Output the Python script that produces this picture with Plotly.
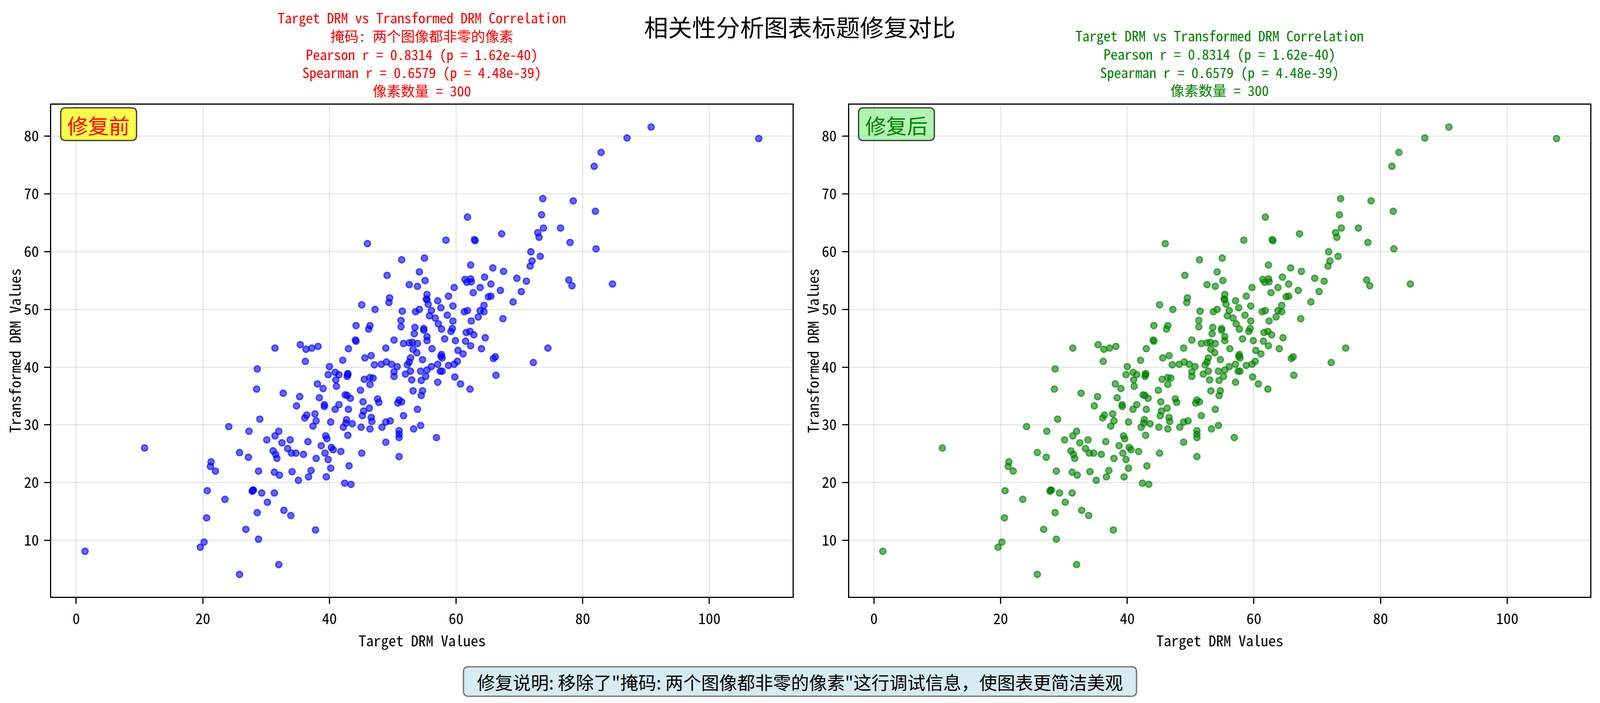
import plotly.graph_objects as go

# ---------------- data ----------------
target_drm = [
    31.4, 35.4, 36.3, 37.2, 38.2, 43.0,
    36.2, 42.1, 45.6, 46.6, 47.1, 48.2,
    40.0, 39.8, 40.9, 41.5,
    42.9, 42.9, 42.8,
    41.0, 41.1, 45.5,
    46.4, 46.9,
    46.4, 38.1, 39.0, 44.9, 28.6, 28.5, 32.7, 35.3, 34.8, 38.4,
    39.2, 39.2,
    40.9, 41.5,
    42.5, 42.8, 43.3,
    43.0, 45.3, 46.3,
    45.4, 45.2,
    47.6, 47.8,
    46.6, 46.7,
    29.0, 24.1, 27.3,
    36.4, 36.1,
    37.7, 37.9, 37.4, 40.2,
    42.7, 42.6, 42.2,
    43.6, 45.0, 46.4, 48.3,
    42.9,
    32.0, 31.4, 30.1, 32.5, 33.8, 36.6,
    39.4, 39.6,
    38.7,
    31.1, 31.5, 31.7,
    33.4,
    34.0, 34.7,
    35.9,
    40.3, 40.6,
    41.8, 39.3, 37.9, 39.8, 45.1, 25.8, 27.2,
    21.3, 21.2,
    22.0, 28.8,
    31.3, 32.1,
    34.1,
    37.1, 36.7,
    35.1, 40.2, 39.5, 43.1,
    42.4, 43.4,
    20.7, 23.5,
    27.9, 28.0, 27.8,
    29.3, 31.3, 30.2, 28.6, 32.8, 33.9, 20.6, 26.8, 37.8, 28.8,
    20.2, 19.6,
    32.0, 25.8,
    46.0, 45.1, 47.2, 44.2, 46.4, 46.2, 44.1, 44.2,
    48.9, 56.2, 62.3, 64.0, 74.5,
    53.2, 53.8,
    52.8, 52.6, 52.3,
    49.0,
    49.8, 50.7,
    50.2, 50.2,
    52.0, 52.8, 53.0, 54.7, 54.4, 55.4, 55.2, 54.5, 56.1, 57.1,
    57.7, 57.8, 57.6,
    57.5, 57.8,
    58.8,
    59.7, 60.2,
    60.3, 61.1, 59.8, 57.1, 60.7, 62.2,
    65.9, 66.2,
    66.3, 72.2, 53.2,
    54.7, 54.5,
    51.0, 50.8, 51.4,
    53.9, 51.7,
    48.9, 49.6,
    53.3, 54.4,
    51.0, 51.0, 51.0,
    56.9, 48.9, 51.0,
    73.7, 78.5, 73.5, 61.8, 73.8, 76.5,
    72.9, 73.1,
    67.2, 58.4,
    62.9, 63.0,
    78.0, 71.8, 73.3,
    72.0, 71.7,
    51.4, 55.0, 62.3, 65.8, 67.5, 49.1, 54.2, 55.1, 52.6, 53.9,
    49.5, 49.4,
    55.4, 55.3, 55.4,
    55.6, 56.1, 55.8, 56.7, 57.2, 57.7, 57.1, 57.6, 58.8, 59.7, 59.5, 58.6, 59.5,
    59.4, 59.2,
    58.2, 59.9, 51.5,
    53.6, 54.2,
    51.3, 51.3,
    53.5, 53.4,
    54.9, 54.9,
    55.4, 55.4,
    50.2,
    51.7, 52.6, 53.1, 53.9,
    61.4, 61.7, 62.3, 62.4,
    62.7, 63.8, 64.5, 65.5,
    65.1, 65.5,
    67.0, 64.4,
    61.3, 61.8,
    63.8, 64.4,
    63.5, 62.4, 67.4, 69.0, 69.6, 71.1, 70.3,
    77.8, 78.3,
    61.6, 62.2, 62.8,
    61.5, 64.6,
    81.8, 82.9, 87.0, 90.8, 107.8, 82.0, 82.1, 84.7,
    1.4, 10.8,
]

transformed_drm = [
    43.3, 43.9, 43.1, 43.3, 43.6, 43.2,
    41.0, 41.2, 41.6, 42.0, 40.4, 40.5,
    40.1, 38.7, 39.1, 38.7,
    38.9, 38.7, 38.4,
    37.8, 36.7, 37.9,
    38.2, 38.1,
    37.0, 37.1, 36.3, 36.0, 39.7, 36.2, 35.5, 34.9, 33.3, 34.7,
    33.5, 33.2,
    32.7, 33.5,
    35.2, 35.1, 34.6,
    32.7, 34.0, 32.9,
    32.4, 31.6,
    34.5, 33.9,
    31.3, 30.6,
    31.0, 29.7, 28.9,
    31.7, 31.2,
    31.9, 30.7, 29.8, 30.5,
    30.9, 30.3, 29.6,
    30.2, 29.6, 29.3, 29.6,
    28.2,
    28.9, 28.1, 27.4, 26.9, 27.4, 27.1,
    28.1, 27.6,
    26.4,
    25.5, 24.9, 24.2,
    25.9,
    25.1, 25.1,
    24.9,
    26.1, 25.7,
    25.4, 25.1, 24.2, 24.0, 25.1, 25.2, 24.4,
    23.6, 22.8,
    22.0, 22.0,
    21.8, 21.3,
    21.9,
    22.1, 21.0,
    20.4, 22.5, 21.0, 22.9,
    19.9, 19.7,
    18.6, 17.1,
    18.7, 18.7, 18.5,
    18.2, 18.2, 16.6, 14.8, 15.2, 14.3, 13.9, 11.9, 11.8, 10.2,
    9.7, 8.8,
    5.8, 4.1,
    61.4, 50.8, 50.0, 47.2, 47.2, 46.6, 44.7, 44.5,
    43.3, 43.2, 43.7, 43.2, 43.3,
    43.1, 42.5,
    41.6, 40.9, 40.4,
    40.9,
    40.5, 40.1,
    39.2, 38.4,
    38.8, 39.3, 37.8, 41.3, 39.3, 39.5, 38.4, 37.7, 40.1, 40.5,
    42.2, 41.6, 41.9,
    39.3, 39.3,
    40.3,
    40.5, 41.0,
    42.9, 42.3, 38.3, 37.4, 37.1, 36.2,
    41.5, 41.8,
    38.6, 40.8, 35.9,
    35.9, 35.1,
    34.3, 33.8, 34.0,
    32.7, 31.6,
    30.5, 30.7,
    29.3, 29.9,
    29.0, 28.4, 27.8,
    27.8, 27.0, 24.5,
    69.2, 68.8, 66.4, 66.0, 64.1, 64.1,
    63.3, 62.5,
    63.1, 62.0,
    62.1, 61.9,
    61.6, 60.0, 59.2,
    58.4, 57.5,
    58.6, 58.9, 57.7, 57.2, 56.6, 55.9, 56.5, 55.0, 54.3, 54.0,
    52.0, 51.2,
    52.6, 51.8, 51.7,
    50.9, 49.8, 48.9, 48.5, 47.5, 46.6, 51.5, 50.3, 52.3, 53.8, 50.6, 49.0, 48.0,
    46.7, 46.2,
    44.9, 44.6, 49.7,
    49.6, 50.0,
    48.1, 47.0,
    46.9, 45.8,
    46.7, 46.4,
    45.3, 44.6,
    44.7,
    44.1, 44.2, 44.3, 44.1,
    55.2, 54.7, 55.3, 54.8,
    52.9, 53.8, 55.6, 54.4,
    52.2, 52.3,
    53.3, 50.7,
    49.6, 49.8,
    49.8, 49.6,
    48.7, 48.0, 48.4, 51.3, 55.4, 54.9, 53.1,
    55.1, 54.1,
    46.0, 46.2, 45.6,
    44.5, 45.1,
    74.8, 77.2, 79.7, 81.6, 79.6, 67.0, 60.5, 54.4,
    8.1, 26.0,
]

x_ticks = [0, 20, 40, 60, 80, 100]
y_ticks = [10, 20, 30, 40, 50, 60, 70, 80]

suptitle = "相关性分析图表标题修复对比"
left_title_lines = [
    "Target DRM vs Transformed DRM Correlation",
    "掩码: 两个图像都非零的像素",
    "Pearson r = 0.8314 (p = 1.62e-40)",
    "Spearman r = 0.6579 (p = 4.48e-39)",
    "像素数量 = 300",
]
right_title_lines = [
    "Target DRM vs Transformed DRM Correlation",
    "Pearson r = 0.8314 (p = 1.62e-40)",
    "Spearman r = 0.6579 (p = 4.48e-39)",
    "像素数量 = 300",
]
x_label = "Target DRM Values"
y_label = "Transformed DRM Values"
left_tag = "修复前"
right_tag = "修复后"
footer = "修复说明: 移除了\"掩码: 两个图像都非零的像素\"这行调试信息，使图表更简洁美观"

# ---------------- layout ----------------
REF_W = 4769          # reference width, layout positions are read from it
W, H = 4096, 1800     # the browser viewport the page is shown in
SX = W / REF_W        # horizontal positions are kept proportional
FS = 0.92             # text scale (compromise for the narrower viewport)

FONT = "Noto Sans Mono CJK SC, Noto Sans CJK SC, sans-serif"
CJK = "Noto Sans CJK SC, Noto Sans Mono CJK SC, sans-serif"


def px(ref_x):
    """reference x pixel -> paper fraction"""
    return ref_x * SX / W


def pxa(x):
    """actual x pixel -> paper fraction"""
    return x / W


def py(v):
    return 1 - v / H


AX1 = (153, 2362, 268, 1528)
AX2 = (2531, 4740, 268, 1528)

xmin, xmax = min(target_drm), max(target_drm)
ymin, ymax = min(transformed_drm), max(transformed_drm)
xr = [xmin - 0.05 * (xmax - xmin), xmax + 0.05 * (xmax - xmin)]
yr = [ymin - 0.05 * (ymax - ymin), ymax + 0.05 * (ymax - ymin)]

fig = go.Figure()
fig.add_trace(go.Scatter(
    x=target_drm, y=transformed_drm, mode="markers", xaxis="x", yaxis="y",
    marker=dict(size=16, color="rgba(0,0,255,0.6)",
                line=dict(color="rgba(0,0,255,0.6)", width=3.5)),
    showlegend=False, hoverinfo="skip"))
fig.add_trace(go.Scatter(
    x=target_drm, y=transformed_drm, mode="markers", xaxis="x2", yaxis="y2",
    marker=dict(size=16, color="rgba(0,128,0,0.6)",
                line=dict(color="rgba(0,128,0,0.6)", width=3.5)),
    showlegend=False, hoverinfo="skip"))


def axis(domain, rng, ticks, anchor):
    return dict(
        domain=domain, range=rng, tickmode="array", tickvals=ticks,
        ticktext=[str(t) for t in ticks], anchor=anchor,
        showline=True, mirror=True, linecolor="black", linewidth=3.3,
        ticks="outside", ticklen=15, tickwidth=3.3, tickcolor="black",
        ticklabelstandoff=6,
        showgrid=True, gridcolor="rgba(176,176,176,0.3)", gridwidth=3.3,
        zeroline=False,
        tickfont=dict(family=FONT, size=41.6 * FS, color="black"),
    )


fig.update_layout(
    width=W, height=H, autosize=False,
    margin=dict(l=0, r=0, t=0, b=0, pad=0),
    paper_bgcolor="white", plot_bgcolor="white",
    xaxis=axis([px(AX1[0]), px(AX1[1])], xr, x_ticks, "y"),
    yaxis=axis([py(AX1[3]), py(AX1[2])], yr, y_ticks, "x"),
    xaxis2=axis([px(AX2[0]), px(AX2[1])], xr, x_ticks, "y2"),
    yaxis2=axis([py(AX2[3]), py(AX2[2])], yr, y_ticks, "x2"),
)

annotations = []


def text(xf, y, s, size, color="black", family=FONT, angle=0):
    annotations.append(dict(
        x=xf, y=py(y), xref="paper", yref="paper", text=s, showarrow=False,
        xanchor="center", yanchor="middle", textangle=angle, align="center",
        font=dict(family=family, size=size, color=color)))


text(0.5, 67, suptitle, 66.7 * FS, family=CJK)

# subplot titles: one multi-line block each (line pitch = 1.3 * font size)
TITLE_SIZE = 36
text(px((AX1[0] + AX1[1]) / 2), 137, "<br>".join(left_title_lines), TITLE_SIZE, color="#ff0000")
text(px((AX2[0] + AX2[1]) / 2), 160, "<br>".join(right_title_lines), TITLE_SIZE, color="#008000")

for ax in (AX1, AX2):
    text(px((ax[0] + ax[1]) / 2), 1638, x_label, 41.6 * FS)
    text(pxa(ax[0] * SX - 95), (ax[2] + ax[3]) / 2, y_label, 41.6 * FS, angle=-90)

shapes = []


def rbox(x0, y0, x1, y1, r, fill, line, lw):
    """x0/x1 in actual pixels, y0/y1 in pixels from top"""
    rx, ry = r / W, r / H
    X0, X1 = pxa(x0), pxa(x1)
    Y0, Y1 = py(y0), py(y1)
    path = (f"M {X0 + rx},{Y0} L {X1 - rx},{Y0} Q {X1},{Y0} {X1},{Y0 - ry} "
            f"L {X1},{Y1 + ry} Q {X1},{Y1} {X1 - rx},{Y1} "
            f"L {X0 + rx},{Y1} Q {X0},{Y1} {X0},{Y1 + ry} "
            f"L {X0},{Y0 - ry} Q {X0},{Y0} {X0 + rx},{Y0} Z")
    shapes.append(dict(type="path", path=path, xref="paper", yref="paper",
                       fillcolor=fill, line=dict(color=line, width=lw), layer="above"))


tag_w, tag_h = 211 * FS, 91 * FS
for ax, tag, fill, col in ((AX1, left_tag, "rgba(255,255,0,0.7)", "#ff0000"),
                           (AX2, right_tag, "rgba(144,238,144,0.7)", "#008000")):
    bx0 = ax[0] * SX + 24
    rbox(bx0, 276, bx0 + tag_w, 276 + tag_h, 13, fill, "rgba(0,0,0,0.7)", 3.5)
    text(pxa(bx0 + tag_w / 2), 276 + tag_h / 2 + 2, tag, 58 * FS, color=col, family=CJK)

fw, fh = 1873 * FS, 82 * FS
rbox(W / 2 - fw / 2, 1745 - fh / 2, W / 2 + fw / 2, 1745 + fh / 2, 13,
     "rgba(173,216,230,0.5)", "rgba(0,0,0,0.5)", 3.5)
text(0.5, 1745, footer, 50 * FS, family=CJK)

fig.update_layout(annotations=annotations, shapes=shapes)

# make the figure fill the browser viewport exactly (no page margin, no scrollbars)
fit_script = """
var gd = document.getElementById('{plot_id}');
document.body.style.margin = '0';
document.body.style.padding = '0';
document.documentElement.style.overflow = 'hidden';
var vw = window.innerWidth, vh = window.innerHeight;
if (vw > 0 && vh > 0 && (vw !== gd.layout.width || vh !== gd.layout.height)) {
  gd.style.width = vw + 'px';
  gd.style.height = vh + 'px';
  Plotly.relayout(gd, {width: vw, height: vh});
}
"""
fig.write_html("out.html", post_script=fit_script,
               config={"displayModeBar": False, "responsive": False})
